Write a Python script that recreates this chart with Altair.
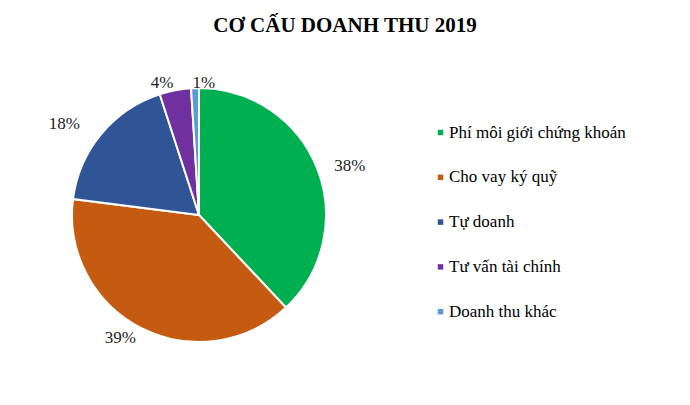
import altair as alt
import pandas as pd

categories = ["Phí môi giới chứng khoán", "Cho vay ký quỹ", "Tự doanh", "Tư vấn tài chính", "Doanh thu khác"]
shares = [38, 39, 18, 4, 1]
labels = ["38%", "39%", "18%", "4%", "1%"]
colors = ["#00B050", "#C55A11", "#2F5597", "#7030A0", "#5B9BD5"]

df = pd.DataFrame({"cat": categories, "val": shares, "lbl": labels, "ord": list(range(len(categories)))})

FONT = "Liberation Serif"
CX, CY, R = 191, 166, 127
theta_scale = alt.Scale(domain=[0, 100])

pie = alt.Chart(df).mark_arc(stroke="white", strokeWidth=2).encode(
    theta=alt.Theta("val:Q", stack=True, scale=theta_scale),
    order=alt.Order("ord:Q"),
    x=alt.value(CX), y=alt.value(CY), radius=alt.value(R),
    color=alt.Color(
        "cat:N",
        scale=alt.Scale(domain=categories, range=colors),
        sort=categories,
        legend=alt.Legend(
            title=None, orient="none", legendX=424, legendY=75,
            symbolType="square", symbolSize=30, symbolStrokeWidth=0,
            labelFont=FONT, labelFontSize=17, labelColor="black",
            rowPadding=26.8, labelOffset=0, labelLimit=300,
        ),
    ),
)

label_base = alt.Chart(df).transform_window(
    cum="sum(val)", sort=[alt.SortField("ord")], frame=[None, 0]
).transform_calculate(mid="datum.cum - datum.val / 2")

label_specs = [
    # (category, radius, dx, dy)
    ("Phí môi giới chứng khoán", 160, 2, 10),
    ("Cho vay ký quỹ", 138, -16, 0),
    ("Tự doanh", 163, -9, 13),
    ("Tư vấn tài chính", 139, -11, 5),
    ("Doanh thu khác", 134, 9, 2),
]

layers = [pie]
for cat, r, dx, dy in label_specs:
    layers.append(
        label_base.mark_text(font=FONT, fontSize=17, color="#222222", dx=dx, dy=dy)
        .encode(
            theta=alt.Theta("mid:Q", stack=False, scale=theta_scale),
            x=alt.value(CX), y=alt.value(CY), radius=alt.value(r), text="lbl:N",
        )
        .transform_filter(alt.datum.cat == cat)
    )

chart = alt.layer(*layers).properties(
    width=674, height=335,
    padding={"top": 7, "left": 0, "right": 0, "bottom": 0},
    background="white",
    title=alt.TitleParams(
        "CƠ CẤU DOANH THU 2019", font=FONT, fontSize=21, fontWeight="bold",
        color="black", anchor="middle", offset=13,
    ),
).configure_view(strokeWidth=0, stroke="transparent")

chart.save("out.html", embed_options={"renderer": "svg", "actions": False})
